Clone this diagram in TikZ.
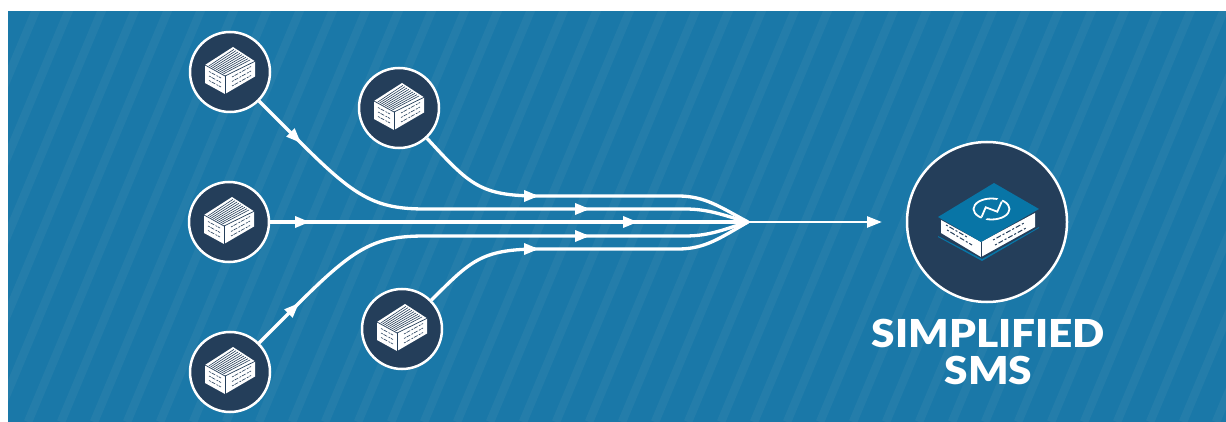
\documentclass[tikz,border=0pt]{standalone}
\usepackage{fontspec}
\newfontfamily\labelfont[FakeStretch=1.1]{Lato Black}
\usepackage{xcolor}
\usetikzlibrary{arrows.meta, positioning, calc}
\definecolor{seablue}{RGB}{26,120,168}
\definecolor{stripeblue}{RGB}{36,125,170}
\definecolor{logoblue}{RGB}{8,117,166}
\definecolor{navy}{RGB}{36,62,90}
\tikzset{
  srv/.style={circle, draw=white, fill=navy, line width=2.5pt, minimum size=80pt, inner sep=0pt},
  flow/.style={draw=white, line width=3.3pt},
  tip/.style={-{Triangle[length=15pt,width=11pt]}},
  crate/.pic={
    \fill[white] (-25,-7) -- (3,-25) -- (25,-10.7) -- (25,4.5) -- (-5,22) -- (-25,11) -- cycle;
    \draw[navy, line width=0.7pt] (-25,-7) -- (-5,4) -- (25,-10.7);
    \draw[navy, line width=0.7pt] (-5,4) -- (-5,22);
    \foreach \t in {0.1,0.2,...,0.95}
      \draw[navy, line width=0.6pt] ($(-23,-7)!\t!(-5,3)$) -- ($(2,-24)!\t!(22,-10.7)$);
    \draw[navy, line width=0.6pt, dash pattern=on 2pt off 1pt on 4pt off 1.5pt]
      (-21,-0.5) -- (-9,6) (-21,4) -- (-9,10.5) (-21,8.5) -- (-9,15)
      (2,5) -- (21,-5.5) (2,9.5) -- (21,-1) (2,14) -- (21,3.5);
  },
  bigbox/.pic={
    \fill[logoblue] (-49,15) -- (-5,39) -- (52,6) -- (52,5) -- (-5,37) -- (-49,14) -- cycle;
    \fill[white] (-46,-2) -- (-46,11) -- (-6,35) -- (48,5) -- (48,-9) -- (-6,20) -- cycle;
    \draw[navy, line width=0.7pt] (-6,20) -- (-6,35);
    \draw[navy, line width=1pt, dash pattern=on 2pt off 2pt on 5pt off 2pt]
      (-41,3) -- (-20,15) (-40,8) -- (-15,23) (6,18) -- (38,0.5) (8,23) -- (40,5.5);
    \fill[logoblue] (-49,-5) -- (7,-39) -- (52,-13) -- (-6,20) -- cycle;
    \draw[white, line width=1.8pt] (4.5,-13) ellipse[x radius=18, y radius=10.5];
    \draw[logoblue, line width=4pt] (-6,0) -- (16,-26);
    \draw[white, line width=1.8pt, line join=miter] (-5.3,-5.3) -- (-1.3,-14.7) -- (10.3,-10.3) -- (14.7,-20.3);
  },
}
\begin{document}
\begin{tikzpicture}[x=1pt, y=-1pt]
  \useasboundingbox (0,0) rectangle (1226,422);
  \fill[seablue] (8,11) rectangle (1226,422);
  \begin{scope}
    \clip (8,11.7) rectangle (1226,422);
    \foreach \x in {36,69,...,1420}
      \draw[stripeblue, line width=8.5pt] (\x+8,-9) -- ++(-181,431);
  \end{scope}
  \node[srv] (s1) at (230,72) {};
  \node[srv] (s2) at (399,108) {};
  \node[srv] (s3) at (229,222) {};
  \node[srv] (s4) at (230,372) {};
  \node[srv] (s5) at (402,329) {};
  \node[srv, minimum size=160pt] (sms) at (987,222) {};
  \foreach \n in {s1,s2,s3,s4,s5} \pic at (\n) {crate};
  \pic at (sms) {bigbox};
  \node[white, font=\labelfont\fontsize{38.5}{37}\selectfont, align=center] (lbl) at (988.5,352) {SIMPLIFIED\\SMS};
  \coordinate (join) at (748,222);
  \coordinate (end) at (882,222);
  % arrow tips along the lines
  \coordinate (a1) at (301,143); \coordinate (b1) at (590,209);
  \coordinate (a2) at (539,196);
  \coordinate (a3) at (310,222); \coordinate (b3) at (638,222);
  \coordinate (a4) at (299,303); \coordinate (b4) at (590,236);
  \coordinate (a5) at (539,249);
  \draw[flow] (s1) -- (a1) .. controls (355,197) and (375,209) .. (425,209) -- (b1) -- (685,209) .. controls (710,209) and (725,216) .. (join);
  \draw[flow] (s2) .. controls (470,185) and (480,196) .. (a2) -- (678,196) .. controls (705,196) and (720,207) .. (join);
  \draw[flow] (s3) -- (a3) -- (b3) -- (join);
  \draw[flow] (s4) -- (a4) .. controls (355,247) and (375,236) .. (425,236) -- (b4) -- (685,236) .. controls (710,236) and (725,229) .. (join);
  \draw[flow] (s5) .. controls (470,262) and (480,249) .. (a5) -- (678,249) .. controls (705,249) and (720,238) .. (join);
  \foreach \a/\d in {a1/45,a2/0,a3/0,b1/0,b3/0,b4/0,a4/-45,a5/0}
    \draw[flow, tip] ($(\a)+(\d+180:4)$) -- (\a);
  \draw[flow, tip, line width=2.6pt] (join) -- (end);
\end{tikzpicture}
\end{document}
